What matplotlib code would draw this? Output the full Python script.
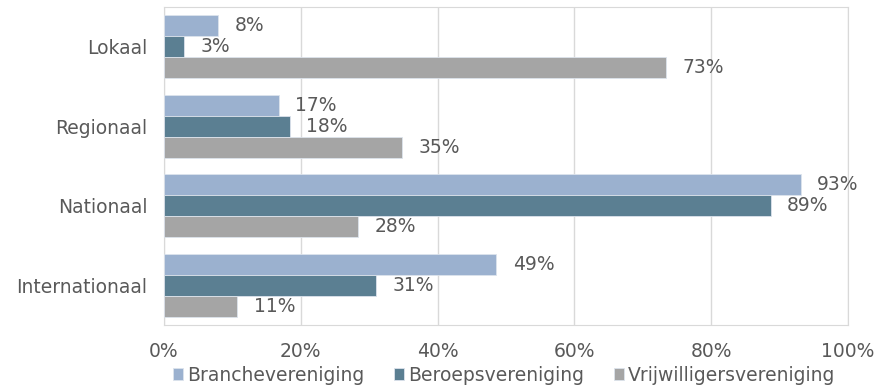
import numpy as np
import matplotlib.pyplot as plt
from matplotlib.ticker import FuncFormatter

categories = ['Lokaal', 'Regionaal', 'Nationaal', 'Internationaal']
series = ['Branchevereniging', 'Beroepsvereniging', 'Vrijwilligersvereniging']
branche = [7.9, 16.8, 93.1, 48.6]
beroeps = [2.9, 18.4, 88.7, 31.0]
vrijwillig = [73.4, 34.8, 28.4, 10.7]
colors = ['#9BB1CF', '#5B7F92', '#A5A5A5']

text_col = '#595959'
fs = 13.5
plt.rcParams['font.family'] = ['DejaVu Sans']

fig = plt.figure(figsize=(8.83, 3.87), dpi=100)
ax = fig.add_axes([0.1857, 0.160, 0.7747, 0.822])

y = np.arange(len(categories))
h = 0.265
for i, (name, vals) in enumerate(zip(series, [branche, beroeps, vrijwillig])):
    pos = y + (i - 1) * h
    ax.barh(pos, vals, height=h, color=colors[i], edgecolor='#DCE3EC',
            linewidth=0.6, label=name, zorder=3)
    for p, v in zip(pos, vals):
        ax.text(v + 2.4, p, f'{round(v)}%', va='center', ha='left',
                fontsize=fs, color=text_col)

ax.set_yticks(y)
ax.set_yticklabels(categories)
ax.set_ylim(len(categories) - 0.5, -0.5)
ax.set_xlim(0, 100)
ax.set_xticks(np.arange(0, 101, 20))
ax.xaxis.set_major_formatter(FuncFormatter(lambda v, p: f'{int(v)}%'))
ax.tick_params(length=0, labelsize=fs, colors=text_col, pad=12)
ax.tick_params(axis='x', pad=12)
ax.grid(axis='x', color='#D9D9D9', linewidth=1, zorder=0)
for s in ax.spines.values():
    s.set_color('#D9D9D9')

fig.legend(loc='center', bbox_to_anchor=(0.571, 0.031), ncol=3, frameon=False,
           fontsize=fs, labelcolor=text_col, handlelength=0.55, handleheight=0.55,
           handletextpad=0.2, columnspacing=1.6, borderpad=0)

fig.savefig('out.png', dpi=100)
